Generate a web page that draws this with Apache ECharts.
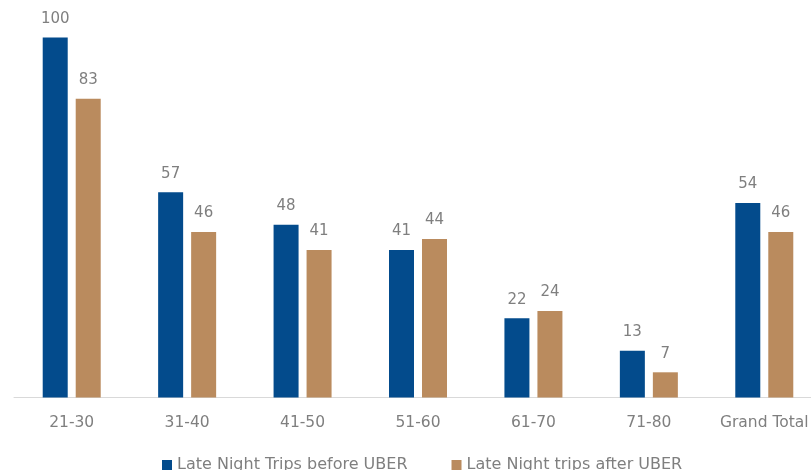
<!DOCTYPE html>
<html>
<head>
<meta charset="utf-8">
<script src="https://cdn.jsdelivr.net/npm/echarts@6/dist/echarts.min.js"></script>
<style>
  html, body { margin: 0; padding: 0; background: #ffffff; overflow: hidden; }
  #chart { width: 830px; height: 470px; }
</style>
</head>
<body>
<div id="chart"></div>
<script>
// Age groups and average late-night trip counts
const categories = ['21-30', '31-40', '41-50', '51-60', '61-70', '71-80', 'Grand Total'];
const beforeUber = [100, 57, 48, 41, 22, 13, 54];
const afterUber = [83, 46, 41, 44, 24, 7, 46];
const seriesNames = ['Late Night Trips before UBER', 'Late Night trips after UBER'];

const textColor = '#7f7f7f';
const fontFamily = '"DejaVu Sans", "Open Sans", sans-serif';

const chart = echarts.init(document.getElementById('chart'), null, { renderer: 'canvas' });

const labelStyle = {
  show: true,
  position: 'top',
  distance: 11,
  color: textColor,
  fontSize: 15,
  fontFamily: fontFamily
};

chart.setOption({
  animation: false,
  backgroundColor: '#ffffff',
  // plot area runs a little past the right edge of the window
  grid: { left: 14, top: 37.5, width: 808, height: 360 },
  legend: {
    top: 452,
    left: 157,
    itemWidth: 10,
    itemHeight: 10,
    itemGap: 44,
    icon: 'rect',
    textStyle: { color: textColor, fontSize: 16, fontFamily: fontFamily },
    data: seriesNames
  },
  xAxis: {
    type: 'category',
    data: categories,
    axisLine: { lineStyle: { color: '#d9d9d9', width: 1 } },
    axisTick: { show: false },
    axisLabel: { color: textColor, fontSize: 15.5, fontFamily: fontFamily, margin: 17 }
  },
  yAxis: {
    type: 'value',
    min: 0,
    max: 100,
    show: false,
    splitLine: { show: false }
  },
  series: [
    {
      name: seriesNames[0],
      type: 'bar',
      data: beforeUber,
      barWidth: 25,
      barGap: '32%',
      itemStyle: { color: '#034b8c' },
      label: labelStyle
    },
    {
      name: seriesNames[1],
      type: 'bar',
      data: afterUber,
      barWidth: 25,
      itemStyle: { color: '#ba8b5e' },
      label: labelStyle
    }
  ]
});
</script>
</body>
</html>
